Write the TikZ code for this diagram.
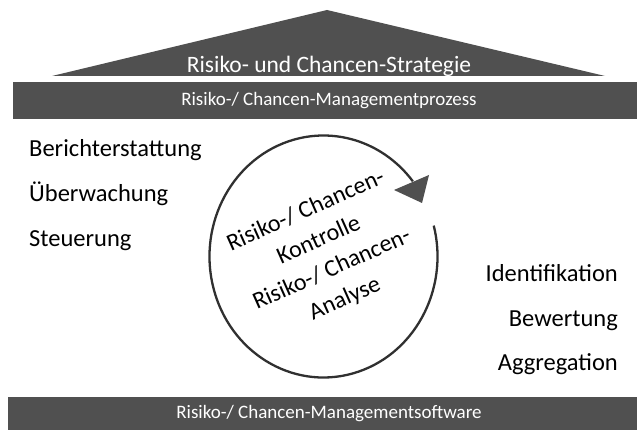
\documentclass[tikz,border=0pt]{standalone}
\usepackage{fontspec}
\setmainfont{Carlito}
\usetikzlibrary{calc}
\definecolor{bargray}{HTML}{505050}
\definecolor{linegray}{HTML}{303030}
\begin{document}
\begin{tikzpicture}[x=1pt,y=1pt,
  bartext/.style={text=white,font=\fontsize{19}{22}\selectfont,inner sep=0pt},
  rooftext/.style={text=white,font=\fontsize{23.5}{26}\selectfont,inner sep=0pt},
  sidetext/.style={font=\fontsize{24.5}{28}\selectfont,inner sep=0pt},
  cycletext/.style={font=\fontsize{24}{32}\selectfont,align=center,inner sep=0pt,rotate=24}]
\useasboundingbox (0,0) rectangle (637,430);
% roof
\fill[bargray] (52,354) -- (327,420) -- (605,354) -- cycle;
\node[rooftext,anchor=base] (roof) at (329,357) {Risiko- und Chancen-Strategie};
% top bar
\fill[bargray] (13,311) rectangle (637,348);
\node[bartext,anchor=base] (proc) at (329,324) {Risiko-/ Chancen-Managementprozess};
% bottom bar
\fill[bargray] (8,0) rectangle (637,33);
\node[bartext] (soft) at (329,16.5) {Risiko-/ Chancen-Managementsoftware};
% left labels
\node[sidetext,anchor=base west] (ber) at (29,273) {Berichterstattung};
\node[sidetext,anchor=base west] (ueb) at (29,228) {Überwachung};
\node[sidetext,anchor=base west] (ste) at (29,183) {Steuerung};
% right labels
\node[sidetext,anchor=base east] (ide) at (618,148) {Identifikation};
\node[sidetext,anchor=base east] (bew) at (618,103) {Bewertung};
\node[sidetext,anchor=base east] (agg) at (618,59) {Aggregation};
% cycle
\coordinate (c) at (323.5,173.5);
\coordinate (hb1) at (394,240);
\coordinate (hb2) at (429,255);
\coordinate (tip) at (422,227);
\draw[linegray,line width=2.3pt] ($(c)+(14.8:114 and 121)$) arc[start angle=14.8,end angle=-321.6,x radius=114,y radius=121];
\fill[bargray] (hb1) -- (hb2) -- (tip) -- cycle;
\node[cycletext] (txt) at (325.5,175) {Risiko-/ Chancen-\\Kontrolle\\Risiko-/ Chancen-\\Analyse};
\end{tikzpicture}
\end{document}
